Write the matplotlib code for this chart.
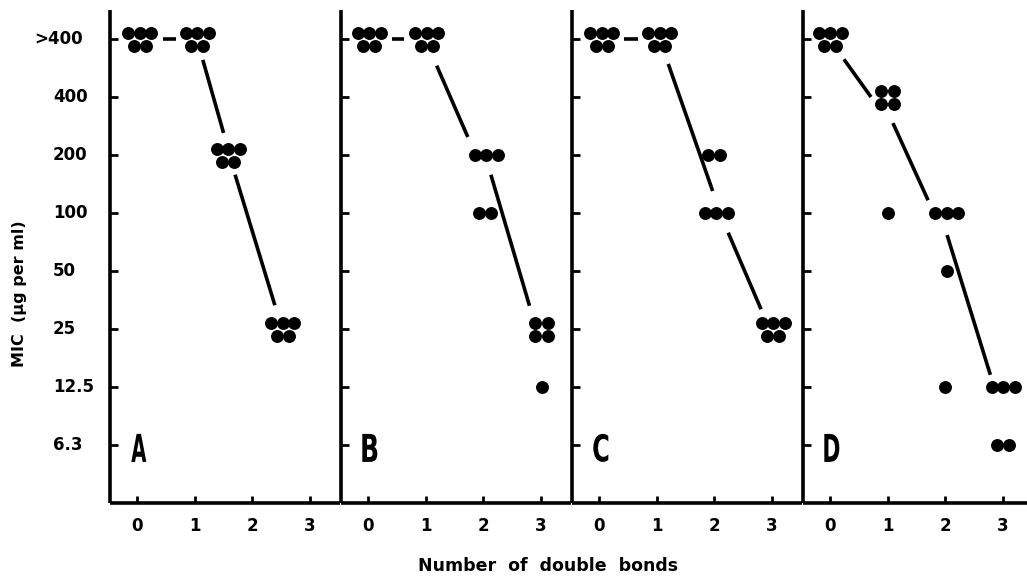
import matplotlib
matplotlib.use("Agg")
import matplotlib.pyplot as plt
import matplotlib.transforms as mtransforms
from matplotlib.textpath import TextPath
from matplotlib.patches import PathPatch
from matplotlib.font_manager import FontProperties

# MIC levels, bottom to top (index = position on the y axis)
levels = ["6.3", "12.5", "25", "50", "100", "200", "400", ">400"]
panels = ["A", "B", "C", "D"]
x_ticks = [0, 1, 2, 3]

# dot groups per panel: (number of double bonds, MIC level, number of strains)
groups = {
    "A": [(0.05, ">400", 5), (1.04, ">400", 5), (1.58, "200", 5), (2.53, "25", 5)],
    "B": [(0.02, ">400", 5), (1.02, ">400", 5), (2.05, "200", 3), (2.03, "100", 2),
          (3.01, "25", 4), (3.01, "12.5", 1)],
    "C": [(0.05, ">400", 5), (1.05, ">400", 5), (2.0, "200", 2), (2.03, "100", 3),
          (3.02, "25", 5)],
    "D": [(0.0, ">400", 5), (1.0, "400", 4), (1.0, "100", 1), (2.02, "100", 3),
          (2.02, "50", 1), (2.0, "12.5", 1), (3.0, "12.5", 3), (3.0, "6.3", 2)],
}

# trend line segments: (x0, y0, x1, y1) in (double bonds, level index)
segments = {
    "A": [(0.45, 7.0, 0.68, 7.0), (1.14, 6.64, 1.50, 5.38), (1.70, 4.66, 2.39, 2.41)],
    "B": [(0.42, 7.0, 0.63, 7.0), (1.19, 6.54, 1.73, 5.31), (2.13, 4.66, 2.80, 2.40)],
    "C": [(0.44, 7.0, 0.68, 7.0), (1.20, 6.57, 1.97, 4.38), (2.24, 3.66, 2.81, 2.34)],
    "D": [(0.24, 6.65, 0.71, 6.0), (1.09, 5.55, 1.70, 4.22), (2.03, 3.62, 2.78, 1.21)],
}

# pixel offsets of the dots inside a group, by group size (dy > 0 is up)
s = 11.5
cluster = {
    1: [(0, 0)],
    2: [(-6, 0), (6, 0)],
    3: [(-s, 0), (0, 0), (s, 0)],
    4: [(-6.5, 6.5), (6.5, 6.5), (-6.5, -6.5), (6.5, -6.5)],
    5: [(-s, 6.5), (0, 6.5), (s, 6.5), (-s / 2, -6.5), (s / 2, -6.5)],
}

W, H = 1027, 581
fig = plt.figure(figsize=(W / 100, H / 100), dpi=100)
fig.patch.set_facecolor("white")

lefts = [110, 341, 572, 803]
bold = FontProperties(family="DejaVu Sans", weight="bold")

for k, (name, left) in enumerate(zip(panels, lefts)):
    ax = fig.add_axes([left / W, (H - 503) / H, 230 / W, 493 / H])
    ax.set_xlim(-0.47, 3.52)
    ax.set_ylim(-1, 7.5)
    ax.patch.set_alpha(0)
    for sp in ["top", "right"]:
        ax.spines[sp].set_visible(False)
    for sp in ["left", "bottom"]:
        ax.spines[sp].set_linewidth(2.6)
        ax.spines[sp].set_capstyle("butt")
    ax.set_yticks(range(len(levels)))
    ax.set_yticklabels([])
    ax.set_xticks(x_ticks)
    ax.set_xticklabels([str(t) for t in x_ticks], fontsize=12, fontweight="bold")
    ax.tick_params(axis="y", direction="in", length=6, width=2)
    ax.tick_params(axis="x", direction="in", length=5, width=2, pad=10)

    if k == 0:
        for i, lab in enumerate(levels):
            if lab.startswith(">"):
                ax.annotate(lab, xy=(0, i), xycoords=("axes fraction", "data"),
                            xytext=(-27, 0), textcoords="offset pixels",
                            ha="right", va="center", fontsize=12, fontweight="bold")
            else:
                ax.annotate(lab, xy=(0, i), xycoords=("axes fraction", "data"),
                            xytext=(-57, 0), textcoords="offset pixels",
                            ha="left", va="center", fontsize=12, fontweight="bold")

    for x0, y0, x1, y1 in segments[name]:
        ax.plot([x0, x1], [y0, y1], color="black", lw=2.6, solid_capstyle="butt")

    for x, lab, n in groups[name]:
        y = levels.index(lab)
        for dx, dy in cluster[n]:
            tr = mtransforms.offset_copy(ax.transData, fig=fig, x=dx, y=dy, units="dots")
            ax.plot(x, y, "o", color="black", ms=9.3, mew=0, transform=tr, clip_on=False)

    # condensed panel letter
    tp = TextPath((0, 0), name, size=1, prop=bold)
    bb = tp.get_extents()
    tr = (mtransforms.Affine2D()
          .translate(-(bb.x0 + bb.x1) / 2, -(bb.y0 + bb.y1) / 2)
          .scale(15 / bb.width, 28 / bb.height)
          + mtransforms.ScaledTranslation(0.03, -0.05, ax.transData))
    ax.add_patch(PathPatch(tp, transform=tr, facecolor="black", lw=0))

fig.text(20 / W, 1 - 294 / H, "MIC  (μg per ml)", rotation=90, ha="center",
         va="center", fontsize=11.5, fontweight="bold")
fig.text(548 / W, 1 - 566 / H, "Number  of  double  bonds", ha="center",
         va="center", fontsize=12.5, fontweight="bold")

fig.savefig("out.png", dpi=100)
